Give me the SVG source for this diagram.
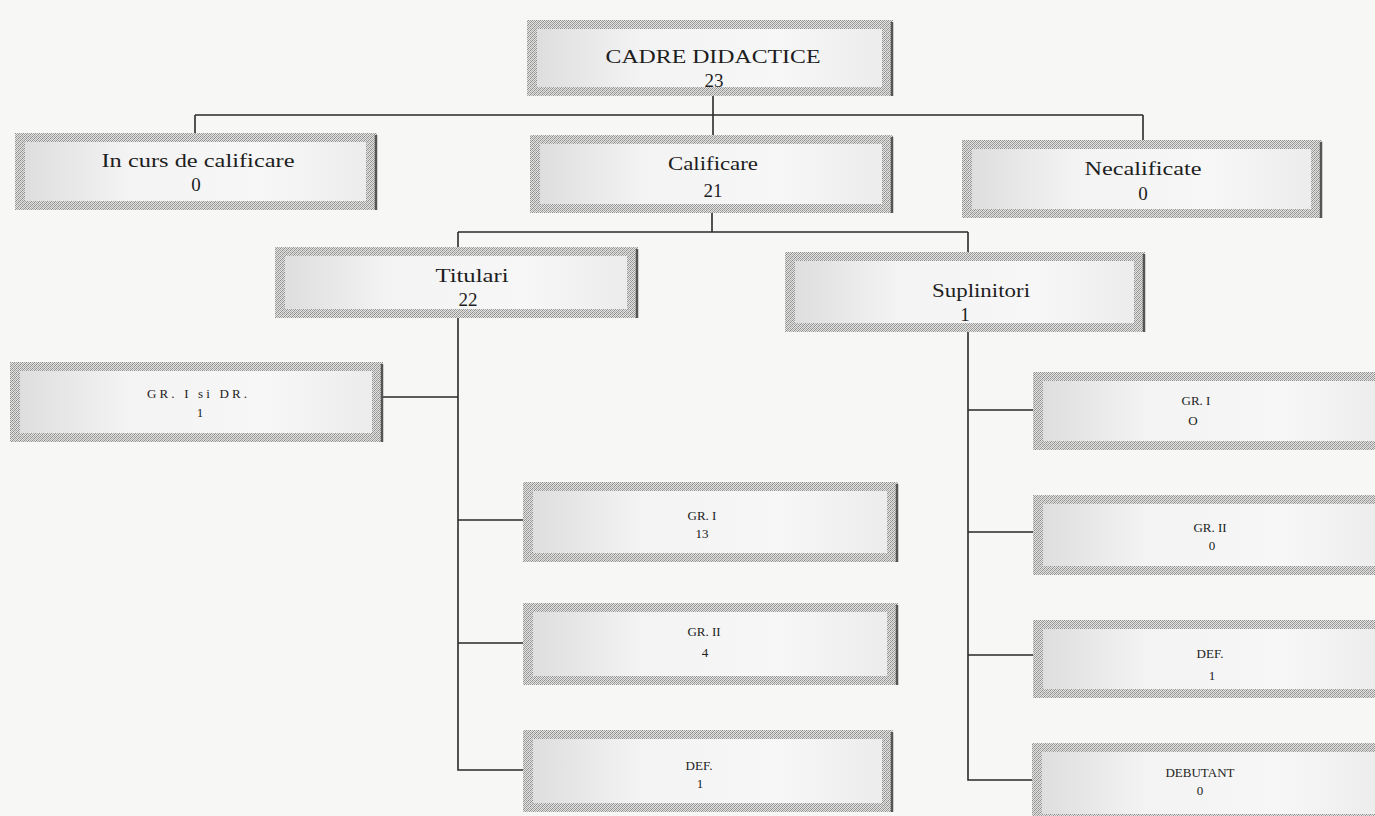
<svg xmlns="http://www.w3.org/2000/svg" width="1375" height="816" viewBox="0 0 1375 816">
<defs>
<pattern id="ht" width="4" height="4" patternUnits="userSpaceOnUse">
<rect width="4" height="4" fill="#e2e2e0"/>
<rect x="0" y="0" width="1" height="1" fill="#8c8c8c"/>
<rect x="2" y="0" width="1" height="1" fill="#a0a0a0"/>
<rect x="1" y="1" width="1" height="1" fill="#b0b0b0"/>
<rect x="3" y="1" width="1" height="1" fill="#909090"/>
<rect x="0" y="2" width="1" height="1" fill="#a6a6a6"/>
<rect x="2" y="2" width="1" height="1" fill="#8c8c8c"/>
<rect x="1" y="3" width="1" height="1" fill="#989898"/>
<rect x="3" y="3" width="1" height="1" fill="#b4b4b4"/>
</pattern>
<linearGradient id="ig" x1="0" y1="0" x2="1" y2="0">
<stop offset="0" stop-color="#dedede"/>
<stop offset="0.3" stop-color="#f3f3f3"/>
<stop offset="0.7" stop-color="#f7f7f7"/>
<stop offset="1" stop-color="#ececec"/>
</linearGradient>
<style>
.frame{fill:url(#ht)}
.inner{fill:url(#ig)}
.edge{stroke:#555;stroke-width:2.5}
.big{font-family:"Liberation Serif",serif;font-size:19px;fill:#1e1e1e;text-anchor:middle;dominant-baseline:central}
.small{font-family:"Liberation Serif",serif;font-size:13px;fill:#222;text-anchor:middle;dominant-baseline:central}
.conn{stroke:#2a2a2a;stroke-width:1.6;fill:none}
</style>
</defs>
<rect width="1375" height="816" fill="#f7f7f5"/>

<g id="connectors">
<path class="conn" d="M713 96 V115 M195 115 H1143 M195 115 V133 M713 115 V135 M1143 115 V140"/>
<path class="conn" d="M712 213 V232 M458 232 H968 M458 232 V247 M968 232 V252"/>
<path class="conn" d="M458 318 V770 H523 M383 397 H458 M458 520 H523 M458 643 H523"/>
<path class="conn" d="M968 332 V780 H1033 M968 410 H1033 M968 532 H1033 M968 655 H1033"/>
</g>

<g id="n-cadre">
<rect class="frame" x="527" y="20" width="366" height="76"/>
<rect class="inner" x="537" y="29" width="345" height="58"/>
<line class="edge" x1="892" y1="22" x2="892" y2="96"/>
<text class="big" x="713" y="56" textLength="215" lengthAdjust="spacingAndGlyphs">CADRE DIDACTICE</text>
<text class="big" x="714" y="80" font-size="18">23</text>
</g>

<g id="n-incurs">
<rect class="frame" x="15" y="133" width="362" height="77"/>
<rect class="inner" x="25" y="142" width="341" height="59"/>
<line class="edge" x1="376" y1="135" x2="376" y2="210"/>
<text class="big" x="198" y="160" textLength="193" lengthAdjust="spacingAndGlyphs">In curs de calificare</text>
<text class="big" x="196" y="184" font-size="18">0</text>
</g>

<g id="n-calificare">
<rect class="frame" x="530" y="135" width="363" height="78"/>
<rect class="inner" x="540" y="144" width="342" height="60"/>
<line class="edge" x1="892" y1="137" x2="892" y2="213"/>
<text class="big" x="713" y="163" textLength="90" lengthAdjust="spacingAndGlyphs">Calificare</text>
<text class="big" x="713" y="190">21</text>
</g>

<g id="n-necalificate">
<rect class="frame" x="962" y="140" width="360" height="78"/>
<rect class="inner" x="972" y="149" width="339" height="60"/>
<line class="edge" x1="1321" y1="142" x2="1321" y2="218"/>
<text class="big" x="1143" y="168" textLength="117" lengthAdjust="spacingAndGlyphs">Necalificate</text>
<text class="big" x="1143" y="193" font-size="18">0</text>
</g>

<g id="n-titulari">
<rect class="frame" x="275" y="247" width="363" height="71"/>
<rect class="inner" x="285" y="256" width="342" height="53"/>
<line class="edge" x1="637" y1="249" x2="637" y2="318"/>
<text class="big" x="472" y="275" textLength="73" lengthAdjust="spacingAndGlyphs">Titulari</text>
<text class="big" x="468" y="299" font-size="18">22</text>
</g>

<g id="n-suplinitori">
<rect class="frame" x="785" y="252" width="360" height="80"/>
<rect class="inner" x="795" y="261" width="339" height="62"/>
<line class="edge" x1="1144" y1="254" x2="1144" y2="332"/>
<text class="big" x="981" y="290" textLength="98" lengthAdjust="spacingAndGlyphs">Suplinitori</text>
<text class="big" x="965" y="314" font-size="18">1</text>
</g>

<g id="n-gr1dr">
<rect class="frame" x="10" y="362" width="373" height="80"/>
<rect class="inner" x="20" y="371" width="352" height="62"/>
<line class="edge" x1="382" y1="364" x2="382" y2="442"/>
<text class="small" x="197" y="393" textLength="100" lengthAdjust="spacing">GR. I si DR.</text>
<text class="small" x="200" y="412">1</text>
</g>

<g id="n-t-gr1">
<rect class="frame" x="523" y="482" width="375" height="80"/>
<rect class="inner" x="533" y="491" width="354" height="62"/>
<line class="edge" x1="897" y1="484" x2="897" y2="562"/>
<text class="small" x="702" y="515">GR. I</text>
<text class="small" x="702" y="533">13</text>
</g>

<g id="n-t-gr2">
<rect class="frame" x="523" y="603" width="375" height="82"/>
<rect class="inner" x="533" y="612" width="354" height="64"/>
<line class="edge" x1="897" y1="605" x2="897" y2="685"/>
<text class="small" x="704" y="631">GR. II</text>
<text class="small" x="705" y="652">4</text>
</g>

<g id="n-t-def">
<rect class="frame" x="523" y="730" width="370" height="82"/>
<rect class="inner" x="533" y="739" width="349" height="64"/>
<line class="edge" x1="892" y1="732" x2="892" y2="812"/>
<text class="small" x="699" y="765">DEF.</text>
<text class="small" x="700" y="783">1</text>
</g>

<g id="n-s-gr1">
<rect class="frame" x="1033" y="372" width="350" height="78"/>
<rect class="inner" x="1043" y="381" width="340" height="60"/>
<text class="small" x="1196" y="400">GR. I</text>
<text class="small" x="1193" y="420">O</text>
</g>

<g id="n-s-gr2">
<rect class="frame" x="1033" y="495" width="350" height="80"/>
<rect class="inner" x="1043" y="504" width="340" height="62"/>
<text class="small" x="1210" y="527">GR. II</text>
<text class="small" x="1212" y="545">0</text>
</g>

<g id="n-s-def">
<rect class="frame" x="1033" y="620" width="350" height="78"/>
<rect class="inner" x="1043" y="629" width="340" height="60"/>
<text class="small" x="1210" y="653">DEF.</text>
<text class="small" x="1212" y="675">1</text>
</g>

<g id="n-s-debutant">
<rect class="frame" x="1032" y="743" width="350" height="80"/>
<rect class="inner" x="1042" y="752" width="340" height="62"/>
<text class="small" x="1200" y="772" font-size="14">DEBUTANT</text>
<text class="small" x="1200" y="790">0</text>
</g>
</svg>
